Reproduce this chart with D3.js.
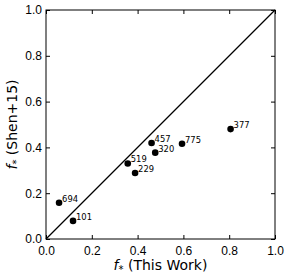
<!DOCTYPE html>
<html>
<head>
<meta charset="utf-8">
<script src="https://cdn.jsdelivr.net/npm/d3@7"></script>
<style>
  body { margin: 0; background: #fff; }
  svg { font-family: "DejaVu Sans", sans-serif; }
</style>
</head>
<body>
<div id="chart"></div>
<script>
// galaxy ids and the two f* estimates
const ids = ["694", "101", "519", "229", "457", "320", "775", "377"];
const fThisWork = [0.057, 0.118, 0.357, 0.389, 0.461, 0.477, 0.594, 0.806];
const fShen = [0.158, 0.079, 0.330, 0.288, 0.419, 0.377, 0.416, 0.480];
const tickVals = [0.0, 0.2, 0.4, 0.6, 0.8, 1.0];

const width = 291;
const height = 278;
const margin = { top: 10, right: 16, bottom: 39, left: 46 };

const svg = d3.select('#chart')
  .append('svg')
  .attr('width', width)
  .attr('height', height);

const x = d3.scaleLinear()
  .domain([0, 1])
  .range([margin.left, width - margin.right]);

const y = d3.scaleLinear()
  .domain([0, 1])
  .range([height - margin.bottom, margin.top]);

// one-to-one line
svg.append('line')
  .attr('x1', x(0)).attr('y1', y(0))
  .attr('x2', x(1)).attr('y2', y(1))
  .attr('stroke', '#000')
  .attr('stroke-width', 1.3);

// inward ticks on all four sides
const fmt = d3.format('.1f');
function styleAxis(g) {
  g.select('.domain').remove();
  g.selectAll('.tick line').attr('stroke', '#000');
  g.selectAll('.tick text').attr('fill', '#000').attr('font-size', 12);
}
svg.append('g')
  .attr('transform', `translate(0,${y(0)})`)
  .call(d3.axisBottom(x).tickValues(tickVals).tickFormat(fmt).tickSizeInner(-4).tickPadding(7))
  .call(styleAxis);
svg.append('g')
  .attr('transform', `translate(${x(0)},0)`)
  .call(d3.axisLeft(y).tickValues(tickVals).tickFormat(fmt).tickSizeInner(-4).tickPadding(4))
  .call(styleAxis);
svg.append('g')
  .attr('transform', `translate(0,${y(1)})`)
  .call(d3.axisTop(x).tickValues(tickVals).tickFormat('').tickSizeInner(-4))
  .call(styleAxis);
svg.append('g')
  .attr('transform', `translate(${x(1)},0)`)
  .call(d3.axisRight(y).tickValues(tickVals).tickFormat('').tickSizeInner(-4))
  .call(styleAxis);

// frame
svg.append('rect')
  .attr('x', x(0)).attr('y', y(1))
  .attr('width', x(1) - x(0)).attr('height', y(0) - y(1))
  .attr('fill', 'none')
  .attr('stroke', '#000')
  .attr('stroke-width', 1);

// points + labels
const pts = ids.map((id, i) => ({ id, fx: fThisWork[i], fy: fShen[i] }));
svg.append('g')
  .selectAll('circle')
  .data(pts)
  .join('circle')
    .attr('cx', d => x(d.fx))
    .attr('cy', d => y(d.fy))
    .attr('r', 3.3)
    .attr('fill', '#000');

svg.append('g')
  .selectAll('text')
  .data(pts)
  .join('text')
    .attr('x', d => x(d.fx) + 3)
    .attr('y', d => y(d.fy) - 1)
    .attr('font-size', 8.4)
    .attr('fill', '#000')
    .text(d => d.id);

// axis labels
const xl = svg.append('text')
  .attr('x', (x(0) + x(1)) / 2)
  .attr('y', 270)
  .attr('text-anchor', 'middle')
  .attr('font-size', 14);
xl.append('tspan').attr('font-style', 'italic').text('f');
xl.append('tspan').attr('font-size', 10).attr('dy', 3).text('*');
xl.append('tspan').attr('dy', -3).text(' (This Work)');

const yl = svg.append('text')
  .attr('transform', `translate(17,${(y(0) + y(1)) / 2}) rotate(-90)`)
  .attr('text-anchor', 'middle')
  .attr('font-size', 14);
yl.append('tspan').attr('font-style', 'italic').text('f');
yl.append('tspan').attr('font-size', 10).attr('dy', 3).text('*');
yl.append('tspan').attr('dy', -3).text(' (Shen+15)');
</script>
</body>
</html>
